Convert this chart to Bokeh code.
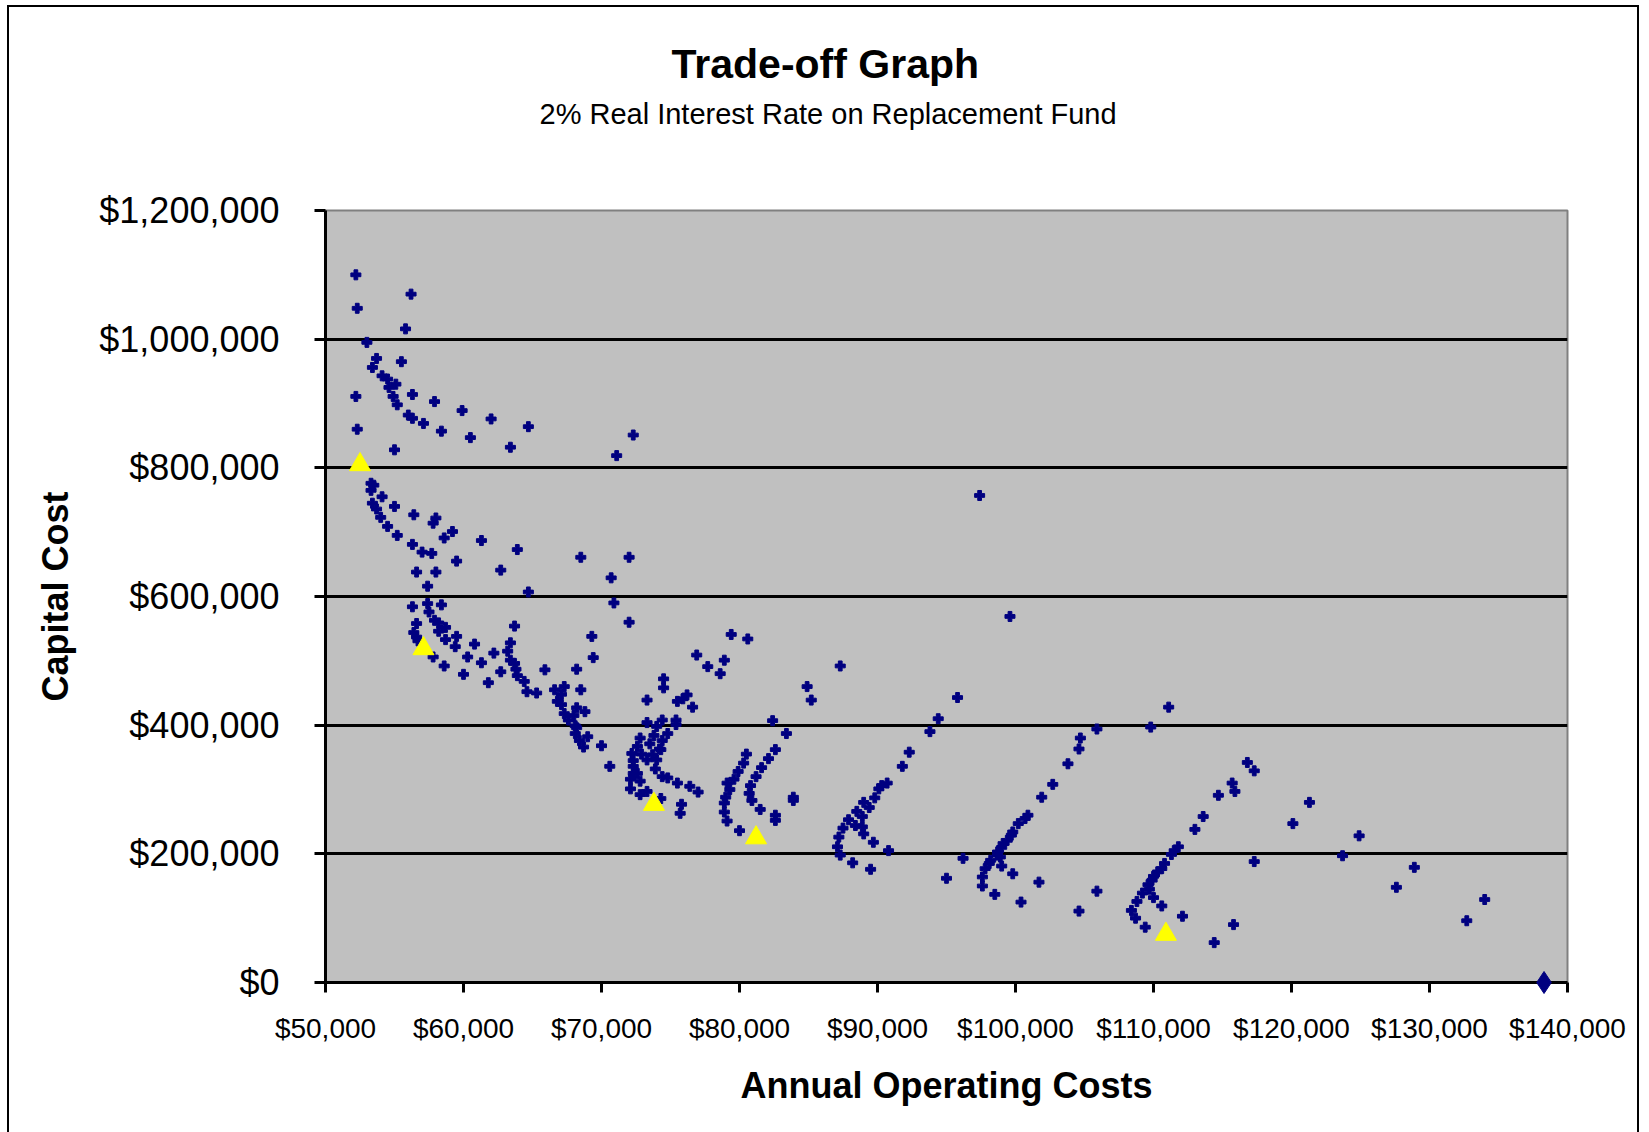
from bokeh.plotting import figure
from bokeh.models import Range1d, FixedTicker, NumeralTickFormatter, Title
from bokeh.embed import file_html
from bokeh.resources import INLINE

# Annual operating cost ($) and capital cost ($) of each design alternative
alt_cost = [
    52200, 52300, 56200, 55800, 53000, 53700, 53400, 55500, 54100, 54500, 55100, 54600, 54900, 55200,
    52200, 56300, 57900, 56000, 56300, 57100, 58400, 59900, 62000, 60500, 63400, 64700, 52300, 55000,
    71100, 72300,
    53300, 53500, 53300, 54100, 53400, 53700, 54000, 54500, 55000, 55200, 56400, 58000, 57800, 59200,
    58600, 56300, 57000, 57700, 59500, 61300, 63900, 62700, 56600, 58000, 57400, 64700, 68500, 72000,
    70700, 70900, 72000, 76900, 77700, 56300, 57400, 58400, 57500, 57900, 58200, 56600, 58700, 58200,
    56400, 56600, 56700, 58700, 59500, 59400, 60800, 60300, 57800, 58600, 60000, 61300, 62200, 63400,
    63200, 63400, 63700, 63800, 63900, 63700, 62700, 61800, 64400, 64600, 65300, 65900, 68200, 69300,
    69400, 66600, 67300, 67100, 68500, 66800, 67100, 68200, 68800, 67300, 68000, 67600, 68100, 68200,
    68100, 69000, 68400, 68700, 70000, 73300, 74500, 74500, 75500, 76200, 76600, 73300, 74400, 75400,
    75400, 74000, 74800, 73800, 72800, 74400, 73500, 72600, 74200,
    79400, 80600, 78900, 78600, 87300, 84900, 85200, 95800, 75900, 94400, 93800, 82400, 83400, 92300,
    91800, 74300, 72200, 72900, 73700, 73300, 74000, 72300, 70600, 73900, 72300, 72300, 72600, 74400,
    74800, 75500, 76400, 77000, 72100, 72800, 72100, 72800, 73300, 74300, 75800, 75700, 79100, 80500,
    80300, 79900, 79600, 79300, 79000, 78900, 78900, 79100, 80000, 82100, 82600, 81600, 81200, 80800,
    80700, 80900, 81500, 82600, 82600, 83900, 83900, 90300, 90700, 90100, 89800, 89000, 89400, 88500,
    88900, 87900, 88400, 88900, 87500, 89000, 87200, 87100, 87300, 89700, 90800, 88200, 89500, 95000,
    96200,
    97400, 99600, 111100, 109800, 104700, 105900, 104600,
    103800, 102700, 101900, 100900, 100700, 100200, 99800, 99700, 99400, 99100, 99000, 98700, 98700,
    98200, 98100, 97800, 97600, 97600, 98900, 99000, 99800, 101700, 98500, 100400, 105900, 104600,
    116800, 117300, 115700, 115900, 114700, 113600, 113000, 111800, 111500, 111300, 110800, 110600,
    110300, 110000, 109900, 109600, 109700, 109200, 108800, 108400, 108700, 109400, 110000, 110600,
    112100, 115800, 114400, 117300, 121300, 120100, 124900, 123700, 128900, 127600, 134000, 132700,
]
alt_capital = [
    1100000, 1048000, 1070000, 1016000, 995000, 970000, 956000, 965000, 943000, 938000, 930000, 925000,
    911000, 898000, 911000, 914000, 903000, 882000, 877000, 869000, 857000, 889000, 876000, 847000,
    832000, 864000, 860000, 828000, 819000, 851000,
    776000, 773000, 765000, 755000, 745000, 736000, 723000, 709000, 740000, 695000, 727000, 722000,
    714000, 701000, 691000, 681000, 669000, 667000, 655000, 687000, 673000, 641000, 638000, 638000,
    616000, 607000, 661000, 661000, 629000, 590000, 560000, 509000, 491000, 584000, 589000, 587000,
    576000, 563000, 559000, 558000, 552000, 546000, 544000, 537000, 531000, 533000, 538000, 522000,
    526000, 506000, 506000, 492000, 479000, 497000, 512000, 528000, 515000, 501000, 496000, 487000,
    477000, 554000, 483000, 466000, 468000, 452000, 450000, 486000, 487000, 538000, 505000, 455000,
    460000, 448000, 455000, 437000, 432000, 427000, 421000, 418000, 415000, 408000, 399000, 396000,
    387000, 382000, 376000, 366000, 368000, 439000, 472000, 458000, 437000, 447000, 428000, 404000,
    408000, 408000, 401000, 398000, 387000, 384000, 380000, 376000, 371000, 367000, 363000,
    541000, 534000, 501000, 480000, 492000, 460000, 439000, 443000, 441000, 410000, 390000, 407000,
    387000, 358000, 336000, 362000, 356000, 355000, 354000, 346000, 346000, 345000, 336000, 332000,
    336000, 325000, 325000, 320000, 318000, 310000, 305000, 296000, 316000, 313000, 301000, 292000,
    297000, 286000, 277000, 263000, 310000, 355000, 341000, 328000, 316000, 300000, 288000, 279000,
    265000, 251000, 236000, 348000, 362000, 334000, 320000, 306000, 294000, 283000, 269000, 260000,
    252000, 288000, 283000, 306000, 310000, 301000, 287000, 280000, 272000, 266000, 258000, 253000,
    244000, 242000, 240000, 231000, 226000, 211000, 198000, 218000, 205000, 186000, 176000, 162000,
    193000,
    757000, 569000, 428000, 397000, 380000, 394000, 363000,
    340000, 308000, 288000, 260000, 255000, 247000, 234000, 229000, 221000, 216000, 210000, 203000,
    198000, 190000, 185000, 177000, 164000, 150000, 195000, 181000, 169000, 156000, 137000, 125000,
    142000, 111000,
    342000, 329000, 310000, 297000, 291000, 258000, 238000, 211000, 205000, 199000, 185000, 177000,
    172000, 165000, 159000, 152000, 145000, 139000, 126000, 112000, 100000, 86000, 132000, 119000,
    103000, 90000, 62000, 188000, 280000, 247000, 228000, 197000, 179000, 148000, 129000, 96000,
]

# Highlighted (trade-off frontier) alternatives
front_cost = [52500, 57100, 73800, 81200, 110900]
front_capital = [805000, 519000, 277000, 225000, 75000]

# Base case
base_cost = [138300]
base_capital = [0]

x_ticks = [50000, 60000, 70000, 80000, 90000, 100000, 110000, 120000, 130000, 140000]
y_ticks = [0, 200000, 400000, 600000, 800000, 1000000, 1200000]
grid_ticks = [200000, 400000, 600000, 800000, 1000000]

title_text = "Trade-off Graph"
subtitle_text = "2% Real Interest Rate on Replacement Fund"

FONT = "Liberation Sans"

p = figure(width=1632, height=1132, output_backend="svg", toolbar_location=None,
           x_range=Range1d(50000, 140000), y_range=Range1d(0, 1200000),
           min_border_left=316, min_border_right=74, min_border_top=203, min_border_bottom=157,
           background_fill_color="#C0C0C0", border_fill_color="white")
p.styles = {"border": "2px solid black", "margin-left": "7px", "margin-top": "5px"}

p.outline_line_color = "#808080"
p.outline_line_width = 2

p.xgrid.visible = False
p.ygrid.ticker = FixedTicker(ticks=grid_ticks)
p.ygrid.grid_line_color = "black"
p.ygrid.grid_line_width = 3

for ax in (p.xaxis[0], p.yaxis[0]):
    ax.axis_line_color = "black"
    ax.axis_line_width = 3
    ax.major_tick_line_color = "black"
    ax.major_tick_line_width = 3
    ax.major_tick_in = 0
    ax.minor_tick_line_color = None
    ax.major_label_text_font = FONT
    ax.major_label_text_color = "black"
    ax.axis_label_text_font = FONT
    ax.axis_label_text_font_style = "bold"
    ax.axis_label_text_font_size = "36px"
    ax.axis_label_text_color = "black"
    ax.formatter = NumeralTickFormatter(format="$0,0")

p.xaxis.ticker = FixedTicker(ticks=x_ticks)
p.yaxis.ticker = FixedTicker(ticks=y_ticks)
p.xaxis.major_tick_out = 10
p.yaxis.major_tick_out = 11
p.xaxis.major_label_text_font_size = "28px"
p.yaxis.major_label_text_font_size = "36px"
p.xaxis.major_label_standoff = 20
p.yaxis.major_label_standoff = 35
p.xaxis.axis_label = "Annual Operating Costs"
p.yaxis.axis_label = "Capital Cost"
p.xaxis.axis_label_standoff = 18
p.yaxis.axis_label_standoff = 20

p.scatter(alt_cost, alt_capital, marker="plus", size=10, color="#000080")
p.scatter(front_cost, front_capital, marker="triangle", size=21, color="#FFFF00")
base = p.scatter(base_cost, base_capital, marker="diamond", size=22, color="#000080")
base.level = "overlay"

# Title panels stack outward from the plot: spacer, subtitle, main title
p.add_layout(Title(text=" ", standoff=78, text_font=FONT, text_font_size="1px"), "above")
p.add_layout(Title(text=subtitle_text, align="left", offset=214, standoff=0,
                   text_font=FONT, text_font_size="29px", text_font_style="normal",
                   text_color="black"), "above")
p.add_layout(Title(text=title_text, align="left", offset=346, standoff=18,
                   text_font=FONT, text_font_size="41px", text_font_style="bold",
                   text_color="black"), "above")

open("out.html", "w").write(file_html(p, INLINE))
